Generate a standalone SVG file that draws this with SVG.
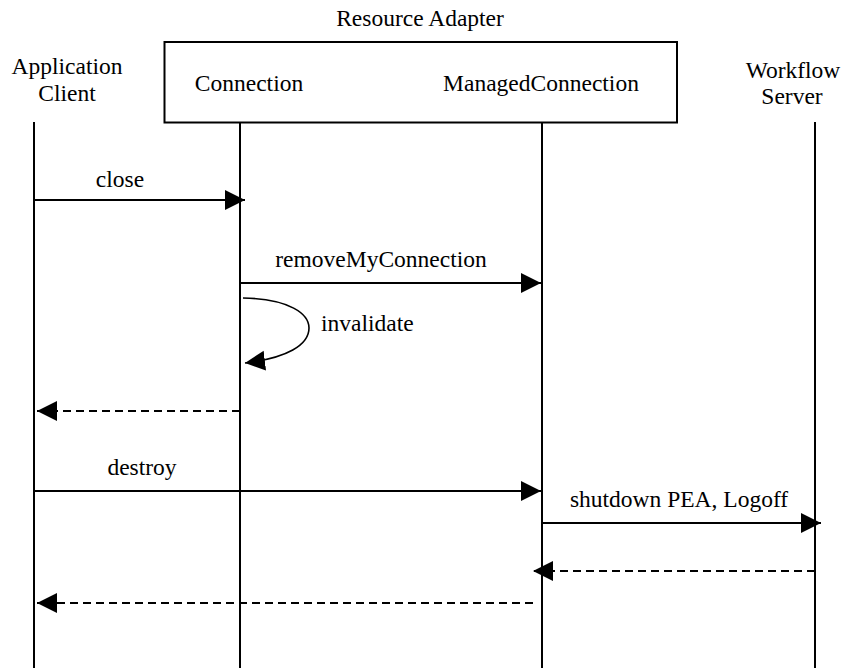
<svg xmlns="http://www.w3.org/2000/svg" width="845" height="668" viewBox="0 0 845 668" font-family="'Liberation Serif', 'Times New Roman', serif">
  <style>
    text { font-family: "Liberation Serif", "Times New Roman", serif; font-size: 23.5px; fill: #000; }
    .life { stroke: #000; stroke-width: 2; fill: none; }
    .msg { stroke: #000; stroke-width: 2; fill: none; marker-end: url(#head); }
    .ret { stroke: #000; stroke-width: 2; fill: none; stroke-dasharray: 8 5; marker-end: url(#head); }
    .self { stroke: #000; stroke-width: 1.6; fill: none; marker-end: url(#head); }
  </style>
  <defs>
    <marker id="head" markerUnits="userSpaceOnUse" markerWidth="21" markerHeight="21" refX="20" refY="10" orient="auto" viewBox="0 0 21 21">
      <path d="M0,0 L20,10 L0,20 z" fill="#000"/>
    </marker>
  </defs>
  <rect width="845" height="668" fill="#fff"/>

  <!-- participants -->
  <g id="resource-adapter">
    <text x="420" y="26" text-anchor="middle">Resource Adapter</text>
    <rect x="164.5" y="42" width="512.5" height="80.5" fill="none" stroke="#000" stroke-width="2"/>
  </g>
  <g id="application-client">
    <text x="67" y="74" text-anchor="middle">Application</text>
    <text x="67" y="101" text-anchor="middle">Client</text>
    <line class="life" x1="34" y1="122" x2="34" y2="668"/>
  </g>
  <g id="connection">
    <text x="249" y="91" text-anchor="middle">Connection</text>
    <line class="life" x1="240" y1="122" x2="240" y2="668"/>
  </g>
  <g id="managed-connection">
    <text x="541" y="91" text-anchor="middle">ManagedConnection</text>
    <line class="life" x1="542" y1="122" x2="542" y2="668"/>
  </g>
  <g id="workflow-server">
    <text x="793" y="78" text-anchor="middle">Workflow</text>
    <text x="792" y="104" text-anchor="middle">Server</text>
    <line class="life" x1="815" y1="122" x2="815" y2="668"/>
  </g>

  <!-- messages -->
  <g id="connectors">
    <line class="msg" x1="34" y1="200" x2="245" y2="200"/>
    <text x="120" y="187" text-anchor="middle">close</text>

    <line class="msg" x1="240" y1="283" x2="541" y2="283"/>
    <text x="381" y="267" text-anchor="middle">removeMyConnection</text>

    <path class="self" d="M243 298 C290 299 309 314 309 328 C309 345 287 358 245 363"/>
    <text x="321" y="331">invalidate</text>

    <line class="ret" x1="240" y1="411" x2="37" y2="411"/>

    <line class="msg" x1="34" y1="491" x2="541" y2="491"/>
    <text x="142" y="475" text-anchor="middle">destroy</text>

    <line class="msg" x1="542" y1="523" x2="821" y2="523"/>
    <text x="679" y="507" text-anchor="middle">shutdown PEA, Logoff</text>

    <line class="ret" x1="815" y1="571" x2="533" y2="571"/>

    <line class="ret" x1="533" y1="603" x2="37" y2="603"/>
  </g>
</svg>
